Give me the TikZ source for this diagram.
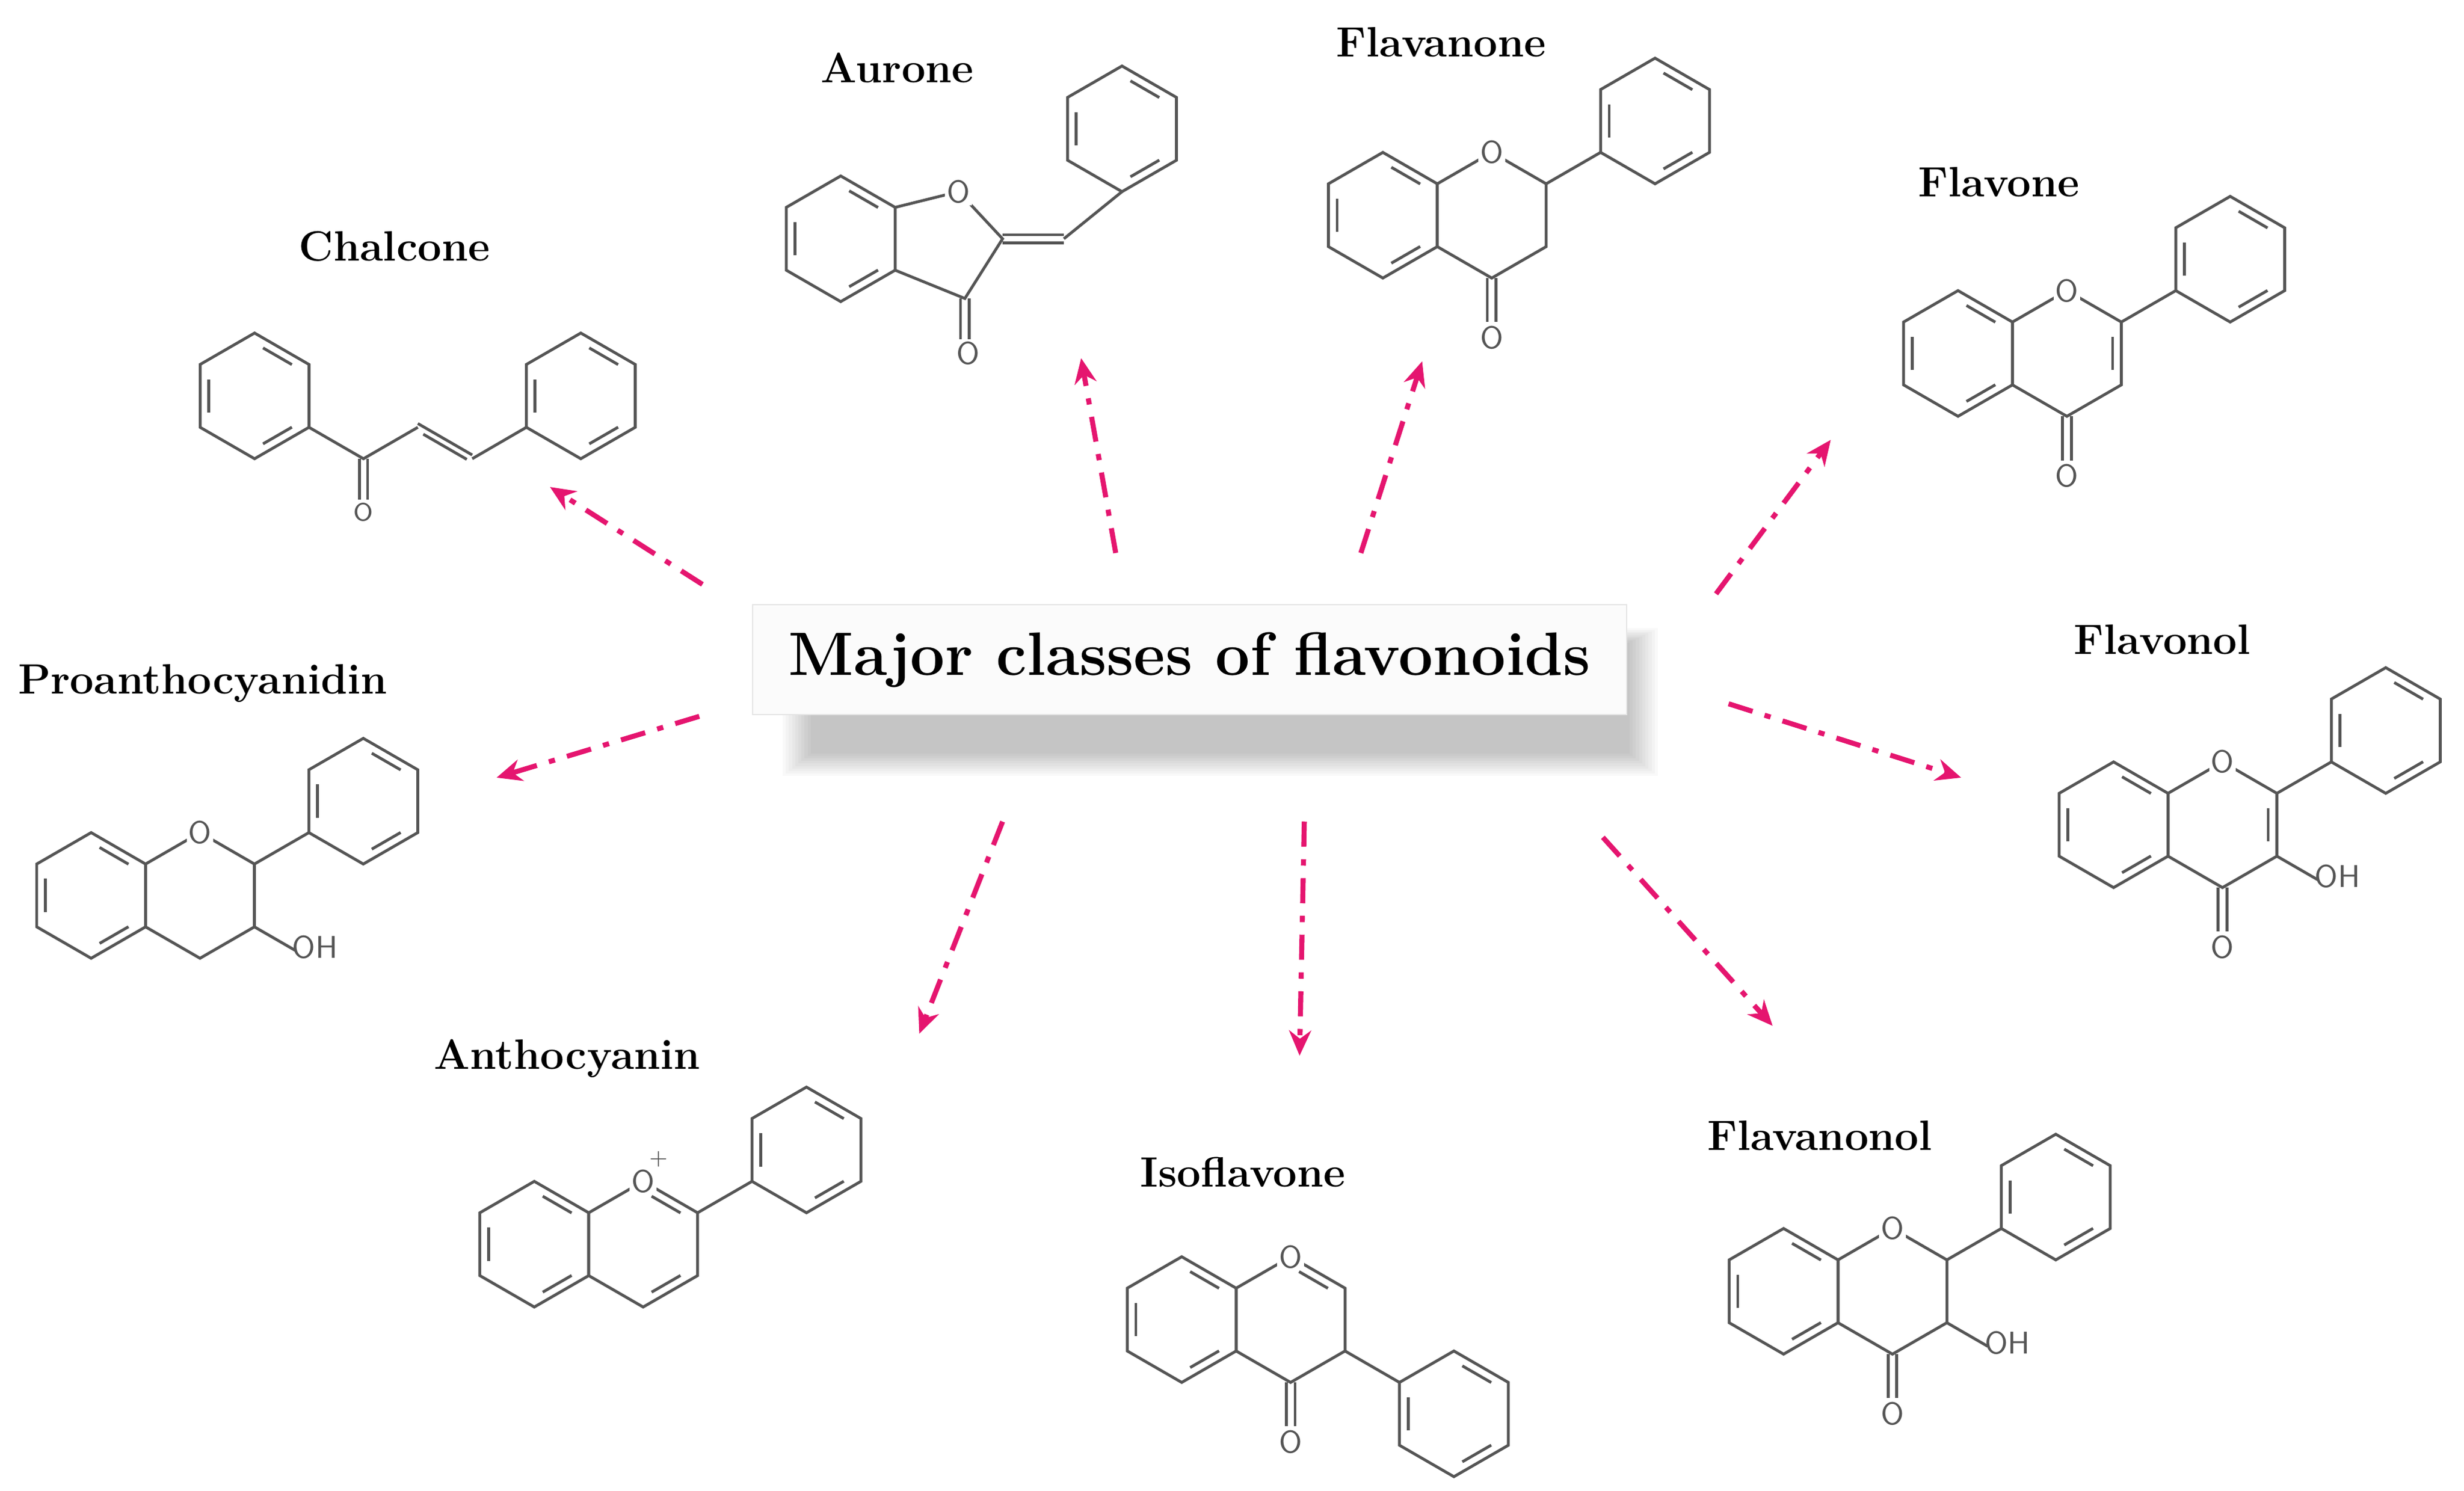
\documentclass[tikz,border=0pt]{standalone}
\usetikzlibrary{calc,arrows.meta}
\definecolor{pk}{HTML}{E5156F}
\definecolor{cg}{HTML}{555555}
\tikzset{
 chem/.style={draw=cg,line width=0.9pt},
 atom/.style={fill=white,inner sep=0.6pt,font=\sffamily\fontsize{10}{10}\selectfont,text=cg},
 lab/.style={font=\bfseries\fontsize{13.5}{13.5}\selectfont},
 arr/.style={draw=pk,line width=1.6pt,dash pattern=on 8pt off 4pt on 2pt off 4pt,-{Stealth[length=8pt,width=7pt]}},
}
\newcommand\hexa[1]{\draw[chem] ($(#1)+(30:40)$) -- ($(#1)+(90:40)$) -- ($(#1)+(150:40)$) -- ($(#1)+(210:40)$) -- ($(#1)+(270:40)$) -- ($(#1)+(330:40)$) -- cycle;}
\newcommand\inb[2]{\draw[chem] ($(#1)+(#2+10:31)$) -- ($(#1)+(#2+50:31)$);}
\newcommand\benz[1]{\hexa{#1}\inb{#1}{150}\inb{#1}{270}\inb{#1}{30}}
\newcommand\skel[3]{\coordinate (#3L) at (#1,#2); \coordinate (#3R) at ($(#3L)+(69.28,0)$);
 \benz{#3L}\hexa{#3R}}
\newcommand\phen[2]{%
 \draw[chem] ($(#1R)+(#2:40)$) -- ($(#1R)+(#2:80)$);
 \coordinate (#1P) at ($(#1R)+(#2:120)$); \benz{#1P}}
\newcommand\carb[1]{\draw[chem] ([xshift=-1.4pt]$(#1R)+(90:40)$) -- ([xshift=-1.4pt]$(#1R)+(90:68)$);
 \draw[chem] ([xshift=1.4pt]$(#1R)+(90:40)$) -- ([xshift=1.4pt]$(#1R)+(90:68)$);
 \node[atom] (#1CO) at ($(#1R)+(90:78)$) {O};}
\newcommand\oxy[1]{\node[atom] (#1O) at ($(#1R)+(270:40)$) {O};}
\newcommand\hydr[1]{\draw[chem] ($(#1R)+(30:40)$) -- ($(#1R)+(30:70)$);
 \node[atom,fill=none,anchor=west] (#1OH) at ($(#1R)+(30:66)$) {OH};}
\begin{document}
\begin{tikzpicture}[x=0.5pt,y=-0.5pt]
\useasboundingbox[fill=white] (0,0) rectangle (1568,949);
% soft shadow
\foreach \k in {0,...,9}{
 \fill[black,opacity=0.022] ({498+2*\k},{400+\k}) rectangle ({1055-2*\k},{494-1.6*\k});}
\node[draw=gray!20,fill=gray!3,minimum width=278pt,minimum height=35pt,font=\bfseries\fontsize{19.5}{21}\selectfont] (title) at (757,420) {Major classes of flavonoids};
% labels
\node[lab] (lch) at (251,157) {Chalcone};
\node[lab] (lau) at (571,43) {Aurone};
\node[lab] (lfa) at (917,27) {Flavanone};
\node[lab] (lfv) at (1272,116) {Flavone};
\node[lab] (lfl) at (1376,407) {Flavonol};
\node[lab] (lpr) at (129,435) {Proanthocyanidin};
\node[lab] (lan) at (361,674) {Anthocyanin};
\node[lab] (lis) at (791,746) {Isoflavone};
\node[lab] (lfn) at (1158,723) {Flavanonol};
% chalcone
\coordinate (chA) at (162,252); \benz{chA}
\coordinate (chB) at (369.6,252); \benz{chB}
\coordinate (c1) at (231.3,292); \coordinate (c2) at (265.9,272); \coordinate (c3) at (300.5,292);
\draw[chem] ($(chA)+(30:40)$) -- (c1) -- (c2);
\draw[chem] (c3) -- ($(chB)+(150:40)$);
\draw[chem] ([yshift=1.2pt]c2) -- ([yshift=1.2pt]c3);
\draw[chem] ([yshift=-1.2pt]$(c2)!0.1!(c3)$) -- ([yshift=-1.2pt]$(c2)!0.9!(c3)$);
\draw[chem] ([xshift=-1.3pt]c1) -- ([xshift=-1.3pt]231.3,318);
\draw[chem] ([xshift=1.3pt]c1) -- ([xshift=1.3pt]231.3,318);
\node[atom,font=\sffamily\fontsize{8}{8}\selectfont] (chO) at (231.3,326) {O};
% aurone
\coordinate (auA) at (535,152); \benz{auA}
\coordinate (auO) at (610,122); \coordinate (au2) at (638,152); \coordinate (au3) at (614,190);
\coordinate (auC) at (677,152); \coordinate (auP) at (714,82);
\draw[chem] ($(auA)+(330:40)$) -- (auO) -- (au2) -- (au3) -- ($(auA)+(30:40)$);
\draw[chem] ([yshift=1.3pt]au2) -- ([yshift=1.3pt]auC);
\draw[chem] ([yshift=-1.3pt]au2) -- ([yshift=-1.3pt]auC);
\draw[chem] (auC) -- ($(auP)+(90:40)$);
\benz{auP}
\draw[chem] ([xshift=-1.4pt]au3) -- ([xshift=-1.4pt]614,216);
\draw[chem] ([xshift=1.4pt]au3) -- ([xshift=1.4pt]614,216);
\node[atom] (auCO) at (616,225) {O};
\node[atom] (auOx) at (auO) {O};
% flavanone
\skel{880}{137}{fa}\phen{fa}{330}\carb{fa}\oxy{fa}
% flavone
\skel{1246}{225}{fv}\phen{fv}{330}\inb{fvR}{330}\carb{fv}\oxy{fv}
% flavonol
\skel{1345}{525}{fl}\phen{fl}{330}\inb{flR}{330}\carb{fl}\hydr{fl}\oxy{fl}
% flavanonol
\skel{1135}{822}{fn}\phen{fn}{330}\carb{fn}\hydr{fn}\oxy{fn}
% isoflavone
\skel{752}{840}{is}\phen{is}{30}\inb{isR}{270}\carb{is}\oxy{is}
% anthocyanin
\skel{340}{792}{an}\phen{an}{330}\inb{anR}{270}\inb{anR}{30}\oxy{an}
\node[font=\sffamily\fontsize{7}{7}\selectfont,text=cg] (anplus) at ($(anO)+(10,-14)$) {+};
% proanthocyanidin
\skel{58}{570}{pr}\phen{pr}{330}\hydr{pr}\oxy{pr}
% arrows
\coordinate (s1) at (447,372); \coordinate (e1) at (350,310);
\coordinate (s2) at (710,352); \coordinate (e2) at (688,228);
\coordinate (s3) at (866,352); \coordinate (e3) at (905,230);
\coordinate (s4) at (1092,378); \coordinate (e4) at (1165,280);
\coordinate (s5) at (1100,448); \coordinate (e5) at (1248,495);
\coordinate (s6) at (445,456); \coordinate (e6) at (316,495);
\coordinate (s7) at (638,523); \coordinate (e7) at (585,658);
\coordinate (s8) at (830,523); \coordinate (e8) at (827,672);
\coordinate (s9) at (1020,533); \coordinate (e9) at (1128,653);
\foreach \i in {1,...,9}{\draw[arr] (s\i) -- (e\i);}
\end{tikzpicture}
\end{document}
